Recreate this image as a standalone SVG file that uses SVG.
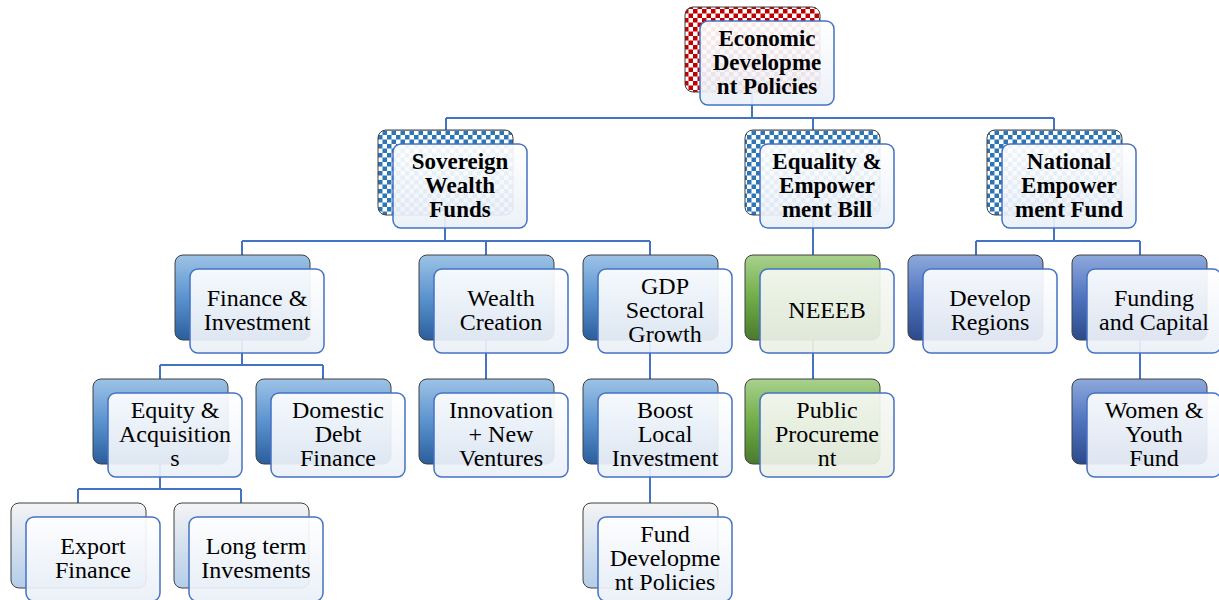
<svg xmlns="http://www.w3.org/2000/svg" width="1219" height="600" viewBox="0 0 1219 600">
<defs>
  <pattern id="chkRed" width="9" height="9" patternUnits="userSpaceOnUse">
    <rect width="9" height="9" fill="#ffffff"/>
    <rect width="4.5" height="4.5" fill="#C00000"/>
    <rect x="4.5" y="4.5" width="4.5" height="4.5" fill="#C00000"/>
  </pattern>
  <pattern id="chkBlue" width="9" height="9" patternUnits="userSpaceOnUse">
    <rect width="9" height="9" fill="#ffffff"/>
    <rect width="4.5" height="4.5" fill="#2E75B6"/>
    <rect x="4.5" y="4.5" width="4.5" height="4.5" fill="#2E75B6"/>
  </pattern>
  <linearGradient id="gBlue" x1="0" y1="0" x2="0" y2="1">
    <stop offset="0" stop-color="#9DC3E6"/>
    <stop offset="0.5" stop-color="#5B93CF"/>
    <stop offset="1" stop-color="#2A5E9C"/>
  </linearGradient>
  <linearGradient id="gNavy" x1="0" y1="0" x2="0" y2="1">
    <stop offset="0" stop-color="#8EA9DB"/>
    <stop offset="0.5" stop-color="#4F73BE"/>
    <stop offset="1" stop-color="#2B4A8A"/>
  </linearGradient>
  <linearGradient id="gGreen" x1="0" y1="0" x2="0" y2="1">
    <stop offset="0" stop-color="#A9D18E"/>
    <stop offset="0.5" stop-color="#70AD47"/>
    <stop offset="1" stop-color="#4A7A2C"/>
  </linearGradient>
  <linearGradient id="gPale" x1="0" y1="0" x2="0" y2="1">
    <stop offset="0" stop-color="#F4F4F4"/>
    <stop offset="1" stop-color="#B4CDE9"/>
  </linearGradient>
  <linearGradient id="gFront" x1="0" y1="0" x2="0" y2="1">
    <stop offset="0" stop-color="#FFFFFF"/>
    <stop offset="1" stop-color="#EAF0F8"/>
  </linearGradient>
  <linearGradient id="gFrontG" x1="0" y1="0" x2="0" y2="1">
    <stop offset="0" stop-color="#F7F9F4"/>
    <stop offset="1" stop-color="#EBF0E6"/>
  </linearGradient>
</defs>
<style>
  .back { stroke: #404040; stroke-width: 1; }
  .front { fill: url(#gFront); fill-opacity: 0.92; stroke: #4472C4; stroke-width: 1.5; }
  .frontG { fill: url(#gFrontG); fill-opacity: 0.92; stroke: #4472C4; stroke-width: 1.5; }
  .t { font-family: "Liberation Serif", "Times New Roman", serif; font-size: 24px; fill: #000; text-anchor: middle; }
  .b { font-weight: bold; font-size: 23px; }
  .conn { fill: none; stroke: #4472C4; stroke-width: 2; }
</style>
<rect width="1219" height="600" fill="#ffffff"/>
<g id="connectors" class="conn">
  <path d="M752 93 V118 M446 118 H1054 M446 118 V130 M813 118 V130 M1054 118 V130"/>
  <path d="M445 215 V241 M242 241 H650 M242 241 V255 M486 241 V255 M650 241 V255"/>
  <path d="M813 215 V255"/>
  <path d="M1054 215 V241 M976 241 H1140 M976 241 V255 M1140 241 V255"/>
  <path d="M242 340 V365 M160 365 H323 M160 365 V379 M323 365 V379"/>
  <path d="M486 340 V379 M650 340 V379 M813 340 V379 M1140 340 V379"/>
  <path d="M160 463 V489 M78 489 H241 M78 489 V503 M241 489 V503"/>
  <path d="M650 463 V503"/>
</g>
<g id="n-economic">
  <rect class="back" x="685" y="7" width="135" height="85" rx="8" fill="url(#chkRed)"/>
  <rect class="front" x="700" y="21" width="134" height="84" rx="8"/>
  <text class="t b"><tspan x="767" y="46">Economic</tspan><tspan x="767" y="70">Developme</tspan><tspan x="767" y="94">nt Policies</tspan></text>
</g>
<g id="n-sovereign">
  <rect class="back" x="378" y="130" width="135" height="85" rx="8" fill="url(#chkBlue)"/>
  <rect class="front" x="393" y="144" width="134" height="84" rx="8"/>
  <text class="t b"><tspan x="460" y="169">Sovereign</tspan><tspan x="460" y="193">Wealth</tspan><tspan x="460" y="217">Funds</tspan></text>
</g>
<g id="n-equality">
  <rect class="back" x="745" y="130" width="135" height="85" rx="8" fill="url(#chkBlue)"/>
  <rect class="front" x="760" y="144" width="134" height="84" rx="8"/>
  <text class="t b"><tspan x="827" y="169">Equality &amp;</tspan><tspan x="827" y="193">Empower</tspan><tspan x="827" y="217">ment Bill</tspan></text>
</g>
<g id="n-national">
  <rect class="back" x="987" y="130" width="135" height="85" rx="8" fill="url(#chkBlue)"/>
  <rect class="front" x="1002" y="144" width="134" height="84" rx="8"/>
  <text class="t b"><tspan x="1069" y="169">National</tspan><tspan x="1069" y="193">Empower</tspan><tspan x="1069" y="217">ment Fund</tspan></text>
</g>
<g id="n-finance">
  <rect class="back" x="175" y="255" width="135" height="85" rx="8" fill="url(#gBlue)"/>
  <rect class="front" x="190" y="269" width="134" height="84" rx="8"/>
  <text class="t"><tspan x="257" y="306">Finance &amp;</tspan><tspan x="257" y="330">Investment</tspan></text>
</g>
<g id="n-wealth">
  <rect class="back" x="419" y="255" width="135" height="85" rx="8" fill="url(#gBlue)"/>
  <rect class="front" x="434" y="269" width="134" height="84" rx="8"/>
  <text class="t"><tspan x="501" y="306">Wealth</tspan><tspan x="501" y="330">Creation</tspan></text>
</g>
<g id="n-gdp">
  <rect class="back" x="583" y="255" width="135" height="85" rx="8" fill="url(#gBlue)"/>
  <rect class="front" x="598" y="269" width="134" height="84" rx="8"/>
  <text class="t"><tspan x="665" y="294">GDP</tspan><tspan x="665" y="318">Sectoral</tspan><tspan x="665" y="342">Growth</tspan></text>
</g>
<g id="n-neeeb">
  <rect class="back" x="745" y="255" width="135" height="85" rx="8" fill="url(#gGreen)"/>
  <rect class="frontG" x="760" y="269" width="134" height="84" rx="8"/>
  <text class="t"><tspan x="827" y="318">NEEEB</tspan></text>
</g>
<g id="n-develop">
  <rect class="back" x="908" y="255" width="135" height="85" rx="8" fill="url(#gNavy)"/>
  <rect class="front" x="923" y="269" width="134" height="84" rx="8"/>
  <text class="t"><tspan x="990" y="306">Develop</tspan><tspan x="990" y="330">Regions</tspan></text>
</g>
<g id="n-funding">
  <rect class="back" x="1072" y="255" width="135" height="85" rx="8" fill="url(#gNavy)"/>
  <rect class="front" x="1087" y="269" width="134" height="84" rx="8"/>
  <text class="t"><tspan x="1154" y="306">Funding</tspan><tspan x="1154" y="330">and Capital</tspan></text>
</g>
<g id="n-equity">
  <rect class="back" x="93" y="379" width="135" height="85" rx="8" fill="url(#gBlue)"/>
  <rect class="front" x="108" y="393" width="134" height="84" rx="8"/>
  <text class="t"><tspan x="175" y="418">Equity &amp;</tspan><tspan x="175" y="442">Acquisition</tspan><tspan x="175" y="466">s</tspan></text>
</g>
<g id="n-domestic">
  <rect class="back" x="256" y="379" width="135" height="85" rx="8" fill="url(#gBlue)"/>
  <rect class="front" x="271" y="393" width="134" height="84" rx="8"/>
  <text class="t"><tspan x="338" y="418">Domestic</tspan><tspan x="338" y="442">Debt</tspan><tspan x="338" y="466">Finance</tspan></text>
</g>
<g id="n-innovation">
  <rect class="back" x="419" y="379" width="135" height="85" rx="8" fill="url(#gBlue)"/>
  <rect class="front" x="434" y="393" width="134" height="84" rx="8"/>
  <text class="t"><tspan x="501" y="418">Innovation</tspan><tspan x="501" y="442">+ New</tspan><tspan x="501" y="466">Ventures</tspan></text>
</g>
<g id="n-boost">
  <rect class="back" x="583" y="379" width="135" height="85" rx="8" fill="url(#gBlue)"/>
  <rect class="front" x="598" y="393" width="134" height="84" rx="8"/>
  <text class="t"><tspan x="665" y="418">Boost</tspan><tspan x="665" y="442">Local</tspan><tspan x="665" y="466">Investment</tspan></text>
</g>
<g id="n-procurement">
  <rect class="back" x="745" y="379" width="135" height="85" rx="8" fill="url(#gGreen)"/>
  <rect class="frontG" x="760" y="393" width="134" height="84" rx="8"/>
  <text class="t"><tspan x="827" y="418">Public</tspan><tspan x="827" y="442">Procureme</tspan><tspan x="827" y="466">nt</tspan></text>
</g>
<g id="n-women">
  <rect class="back" x="1072" y="379" width="135" height="85" rx="8" fill="url(#gNavy)"/>
  <rect class="front" x="1087" y="393" width="134" height="84" rx="8"/>
  <text class="t"><tspan x="1154" y="418">Women &amp;</tspan><tspan x="1154" y="442">Youth</tspan><tspan x="1154" y="466">Fund</tspan></text>
</g>
<g id="n-export">
  <rect class="back" x="11" y="503" width="135" height="85" rx="8" fill="url(#gPale)"/>
  <rect class="front" x="26" y="517" width="134" height="84" rx="8"/>
  <text class="t"><tspan x="93" y="554">Export</tspan><tspan x="93" y="578">Finance</tspan></text>
</g>
<g id="n-longterm">
  <rect class="back" x="174" y="503" width="135" height="85" rx="8" fill="url(#gPale)"/>
  <rect class="front" x="189" y="517" width="134" height="84" rx="8"/>
  <text class="t"><tspan x="256" y="554">Long term</tspan><tspan x="256" y="578">Invesments</tspan></text>
</g>
<g id="n-funddev">
  <rect class="back" x="583" y="503" width="135" height="85" rx="8" fill="url(#gPale)"/>
  <rect class="front" x="598" y="517" width="134" height="84" rx="8"/>
  <text class="t"><tspan x="665" y="542">Fund</tspan><tspan x="665" y="566">Developme</tspan><tspan x="665" y="590">nt Policies</tspan></text>
</g>
</svg>
